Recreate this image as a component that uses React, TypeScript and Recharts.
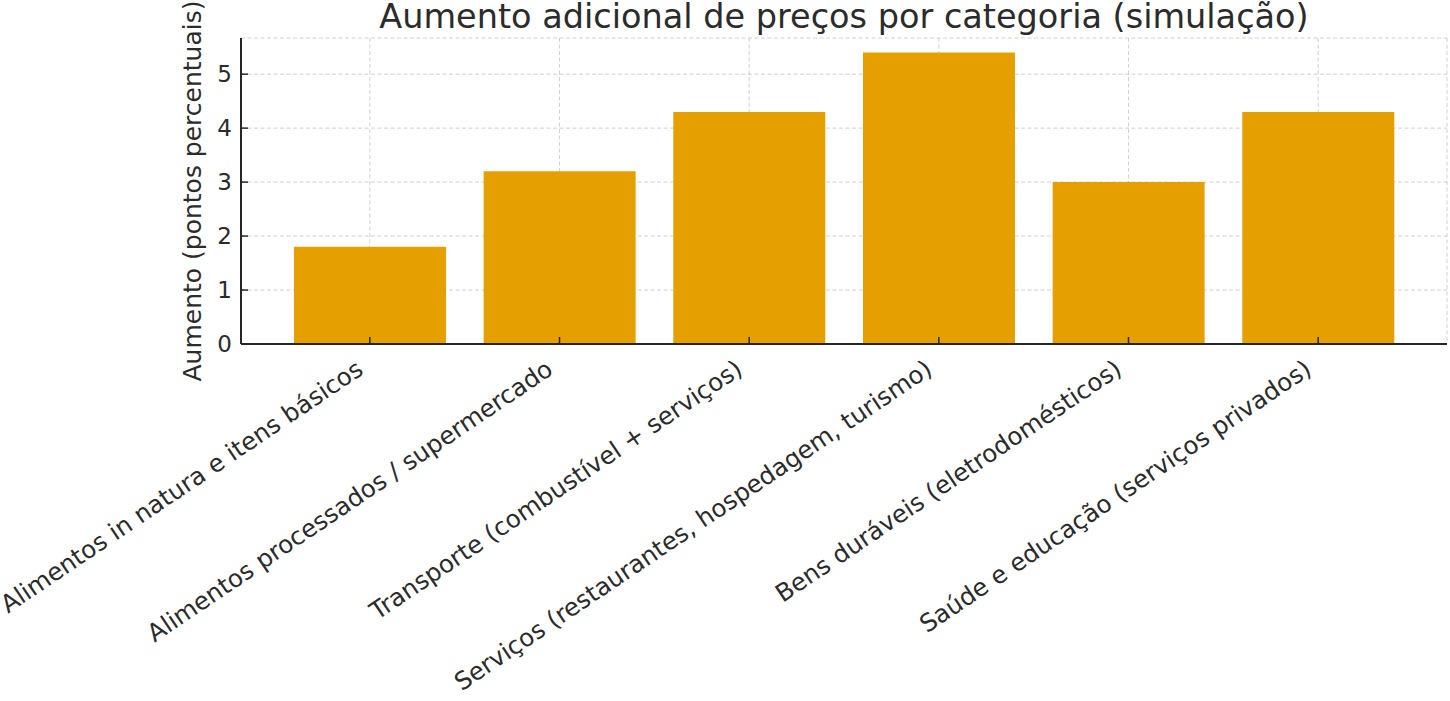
import { BarChart, Bar, XAxis, YAxis, CartesianGrid } from 'recharts';

const categories = [
  'Alimentos in natura e itens básicos',
  'Alimentos processados / supermercado',
  'Transporte (combustível + serviços)',
  'Serviços (restaurantes, hospedagem, turismo)',
  'Bens duráveis (eletrodomésticos)',
  'Saúde e educação (serviços privados)',
];
const increases = [1.8, 3.2, 4.3, 5.4, 3.0, 4.3];
const yTicks = [0, 1, 2, 3, 4, 5];

const title = 'Aumento adicional de preços por categoria (simulação)';
const yLabel = 'Aumento (pontos percentuais)';

const data = categories.map((name, i) => ({ name, value: increases[i] }));

const FONT = '"DejaVu Sans", sans-serif';
const TEXT = '#2b2b2b';
const AXIS = '#262626';

// rotated category labels, right end anchored just left of the tick
function CategoryTick(props: any) {
  const { x, y, payload } = props;
  const px = x - 5;
  const py = y + 29;
  return (
    <text
      x={px}
      y={py}
      textAnchor="end"
      transform={`rotate(-34, ${px}, ${py})`}
      fill={TEXT}
      fontSize={24.5}
      fontFamily={FONT}
    >
      {payload.value}
    </text>
  );
}

export default function App() {
  return (
    <div style={{ position: 'absolute', left: 0, top: 0, width: 1450, height: 701, background: '#fff' }}>
      <BarChart
        width={1450}
        height={701}
        data={data}
        margin={{ top: 38, right: 3, bottom: 0, left: 0 }}
        barCategoryGap="10%"
      >
        <XAxis
          dataKey="name"
          interval={0}
          padding={{ left: 34, right: 34 }}
          height={357}
          tickSize={-7}
          tickMargin={7}
          tick={<CategoryTick />}
          axisLine={{ stroke: AXIS, strokeWidth: 2 }}
          tickLine={{ stroke: AXIS, strokeWidth: 1.5 }}
        />
        <YAxis
          domain={[0, 5.67]}
          ticks={yTicks}
          width={241}
          tickSize={-7}
          tickMargin={16}
          allowDataOverflow
          tick={{ fill: TEXT, fontSize: 23, fontFamily: FONT }}
          axisLine={{ stroke: AXIS, strokeWidth: 2 }}
          tickLine={{ stroke: AXIS, strokeWidth: 1.5 }}
        />
        <Bar dataKey="value" fill="#E69F00" isAnimationActive={false} />
        <CartesianGrid stroke="#b0b0b0" strokeOpacity={0.6} strokeDasharray="4 2.5" />
      </BarChart>
      <svg
        width={1450}
        height={701}
        style={{ position: 'absolute', left: 0, top: 0, pointerEvents: 'none' }}
      >
        <text x={844} y={28} textAnchor="middle" fill={TEXT} fontSize={33.5} fontFamily={FONT}>
          {title}
        </text>
        <text
          x={201}
          y={191}
          textAnchor="middle"
          transform="rotate(-90, 201, 191)"
          fill={TEXT}
          fontSize={25}
          fontFamily={FONT}
        >
          {yLabel}
        </text>
      </svg>
    </div>
  );
}
